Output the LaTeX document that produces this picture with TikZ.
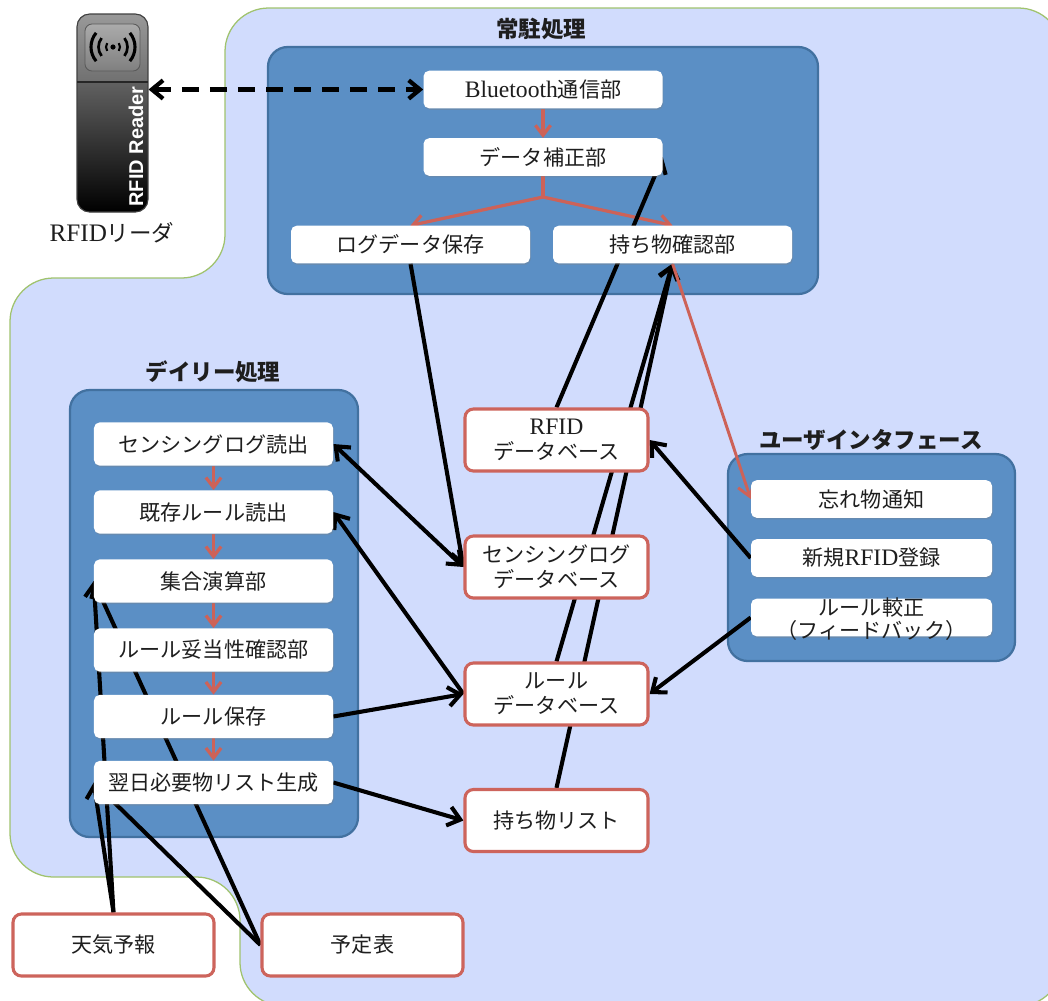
\documentclass[tikz,border=0pt]{standalone}
\usepackage{fontspec}
\setmainfont{Liberation Serif}[Scale=1.12]
\newfontfamily\jp{Noto Sans CJK JP}
\newfontfamily\rsans{Liberation Sans}
\usetikzlibrary{arrows.meta,shadows}

\newcommand\jt[1]{{\jp #1}}
\newcommand\bxfont{\fontsize{15}{18}\selectfont}
\newcommand\ttlfont{\fontsize{16}{19}\selectfont\jp\bfseries}

\definecolor{regionfill}{RGB}{209,220,253}
\definecolor{regionedge}{RGB}{160,195,110}
\definecolor{contblue}{RGB}{91,143,197}
\definecolor{contedge}{RGB}{66,113,160}
\definecolor{dbred}{RGB}{205,100,92}
\definecolor{arrred}{RGB}{205,98,88}
\definecolor{ink}{RGB}{30,30,30}

\pgfdeclarelayer{bg}
\pgfdeclarelayer{cont}
\pgfdeclarelayer{conn}
\pgfsetlayers{bg,cont,conn,main}

\tikzset{
  wbox/.style={fill=white, rounded corners=4pt, inner sep=0pt,
    minimum width=59.75mm, minimum height=9.4mm, text=ink, font=\bxfont,
    drop shadow={shadow xshift=0.6pt, shadow yshift=-1.1pt, opacity=0.3}},
  dbox/.style={draw=dbred, line width=2.2pt, fill=white, rounded corners=6pt,
    inner sep=0pt, minimum width=45.75mm, minimum height=15.5mm,
    align=center, text=ink, font=\bxfont},
  cont/.style={fill=contblue, draw=contedge, line width=1.6pt, rounded corners=14pt},
  ttl/.style={font=\ttlfont, text=ink},
  rline/.style={draw=arrred, line width=2.3pt},
  rarr/.style={draw=arrred, line width=2.3pt, -{Straight Barb[length=2.5mm,width=3.8mm]}},
  rlong/.style={draw=arrred, line width=2.1pt, -{Straight Barb[length=3mm,width=4.2mm]}},
  barr/.style={draw=black, line width=2.9pt, -{Straight Barb[length=3mm,width=4.8mm]}},
  barrboth/.style={draw=black, line width=2.9pt,
    {Straight Barb[length=3mm,width=4.8mm]}-{Straight Barb[length=3mm,width=4.8mm]}},
  dasharr/.style={draw=black, line width=3pt, dash pattern=on 4.2mm off 2.8mm,
    {Straight Barb[length=2.8mm,width=4.6mm]}-{Straight Barb[length=2.8mm,width=4.6mm]}},
}

\begin{document}
\begin{tikzpicture}[x=0.25mm, y=-0.25mm]
\useasboundingbox (0,0) rectangle (1048,1000);

% light background area
\begin{pgfonlayer}{bg}
  \begin{scope}
    \clip (0,0) rectangle (1048,1000);
    \draw[fill=regionfill, draw=regionedge, line width=0.9pt, rounded corners=31pt]
      (225,8) -- (1062,8) -- (1062,1006) -- (240,1006) -- (240,877)
      -- (10,877) -- (10,278) -- (225,278) -- cycle;
  \end{scope}
\end{pgfonlayer}

% processing containers
\begin{pgfonlayer}{cont}
  \draw[cont] (268,47) rectangle (818,294);
  \draw[cont] (70,390) rectangle (358,837);
  \draw[cont] (728,454) rectangle (1015,661);
\end{pgfonlayer}

\node[ttl] (tres) at (541,29) {常駐処理};
\node[ttl] (tday) at (213,372) {デイリー処理};
\node[ttl] (tui) at (871,440) {ユーザインタフェース};

% RFID reader device
\begin{scope}
  \clip[rounded corners=9pt] (77,14) rectangle (148,212);
  \shade[top color=black!62, bottom color=black] (77,82) rectangle (148,212);
  \shade[top color=black!40, bottom color=black!56] (77,14) rectangle (148,82);
\end{scope}
\node[draw=black!75, line width=0.8pt, rounded corners=9pt, inner sep=0pt,
  minimum width=17.75mm, minimum height=49.5mm] (reader) at (112.5,113) {};
\draw[black!85, line width=1.6pt] (77,82) -- (148,82);
\shade[top color=black!33, bottom color=black!50, draw=black!65, line width=0.6pt,
  rounded corners=5pt] (85,24) rectangle (140,71);
\fill[black] (113,47) circle[radius=2.6];
\foreach \r/\a/\w in {7/34/1.5pt, 14.5/38/1.9pt, 22/40/2.2pt}{
  \draw[black, line width=\w] (113,47) ++(-\a:\r) arc[start angle=-\a, end angle=\a, radius=\r];
  \draw[black, line width=\w] (113,47) ++(180-\a:\r) arc[start angle=180-\a, end angle=180+\a, radius=\r];
}
\node[rotate=90, text=white, font=\rsans\bfseries\fontsize{14.2}{15}\selectfont]
  (readertxt) at (136,146.5) {RFID Reader};
\node[text=ink, font=\fontsize{16}{19}\selectfont] (readerlbl) at (112,233) {RFID\jt{リーダ}};

% resident processing
\node[wbox] (bt) at (543,89.5) {Bluetooth\jt{通信部}};
\node[wbox] (dc) at (543,157) {\jt{データ補正部}};
\node[wbox] (log) at (410.5,244.5) {\jt{ログデータ保存}};
\node[wbox] (chk) at (672.5,244.5) {\jt{持ち物確認部}};

% daily processing
\node[wbox, minimum height=10.8mm] (d1) at (213.5,444) {\jt{センシングログ読出}};
\node[wbox, minimum height=10.8mm] (d2) at (213.5,512) {\jt{既存ルール読出}};
\node[wbox, minimum height=10.8mm] (d3) at (213.5,581) {\jt{集合演算部}};
\node[wbox, minimum height=10.8mm] (d4) at (213.5,650) {\jt{ルール妥当性確認部}};
\node[wbox, minimum height=10.8mm] (d5) at (213.5,716.5) {\jt{ルール保存}};
\node[wbox, minimum height=10.8mm] (d6) at (213.5,782.5) {\jt{翌日必要物リスト生成}};

% user interface
\node[wbox, minimum width=60.25mm] (u1) at (871.5,499) {\jt{忘れ物通知}};
\node[wbox, minimum width=60.25mm] (u2) at (871.5,558) {\jt{新規}RFID\jt{登録}};
\node[wbox, minimum width=60.25mm] (u3) at (871.5,617.5) {};
\node[text=ink, align=center, font=\fontsize{15}{16.5}\selectfont\jp]
  (u3txt) at (871.5,619) {ルール較正\\（フィードバック）};

% databases and external sources
\node[dbox] (rdb) at (556.5,440) {RFID\\\jt{データベース}};
\node[dbox] (sdb) at (556.5,567) {\jt{センシングログ}\\\jt{データベース}};
\node[dbox] (ldb) at (556.5,694) {\jt{ルール}\\\jt{データベース}};
\node[dbox] (mdb) at (556.5,820.5) {\jt{持ち物リスト}};
\node[dbox, minimum width=50.25mm] (wx) at (113.5,945) {\jt{天気予報}};
\node[dbox, minimum width=50.25mm] (sch) at (362.5,945) {\jt{予定表}};

% connectors
\begin{pgfonlayer}{conn}
  \draw[dasharr] (reader.east |- bt.west) -- (bt.west);
  \draw[rarr] (bt.south) -- (dc.north);
  \coordinate (split) at (543,197);
  \draw[rline] (dc.south) -- (split);
  \draw[rarr] (split) -- (log.north);
  \draw[rarr] (split) -- (chk.north);
  \foreach \a/\b in {d1/d2, d2/d3, d3/d4, d4/d5, d5/d6}
    \draw[rarr] (\a.south) -- (\b.north);

  \draw[barr] (log.south) -- (sdb.west);
  \draw[barrboth] (d1.east) -- (sdb.west);
  \draw[barr] (ldb.west) -- (d2.east);
  \draw[barr] (d5.east) -- (ldb.west);
  \draw[barr] (d6.east) -- (mdb.west);
  \draw[barr] (rdb.north) -- (dc.east);
  \draw[barr] (ldb.north) -- (chk.south);
  \draw[barr] (mdb.north) -- (chk.south);
  \draw[barr] (u2.west) -- (rdb.east);
  \draw[barr] (u3.west) -- (ldb.east);
  \draw[rlong] (chk.south) -- (u1.west);

  \draw[barr] (wx.north) -- (d3.west);
  \draw[barr] (wx.north) -- (d6.west);
  \draw[barr] (sch.west) -- (d3.west);
  \draw[barr] (sch.west) -- (d6.west);
\end{pgfonlayer}
\end{tikzpicture}
\end{document}
